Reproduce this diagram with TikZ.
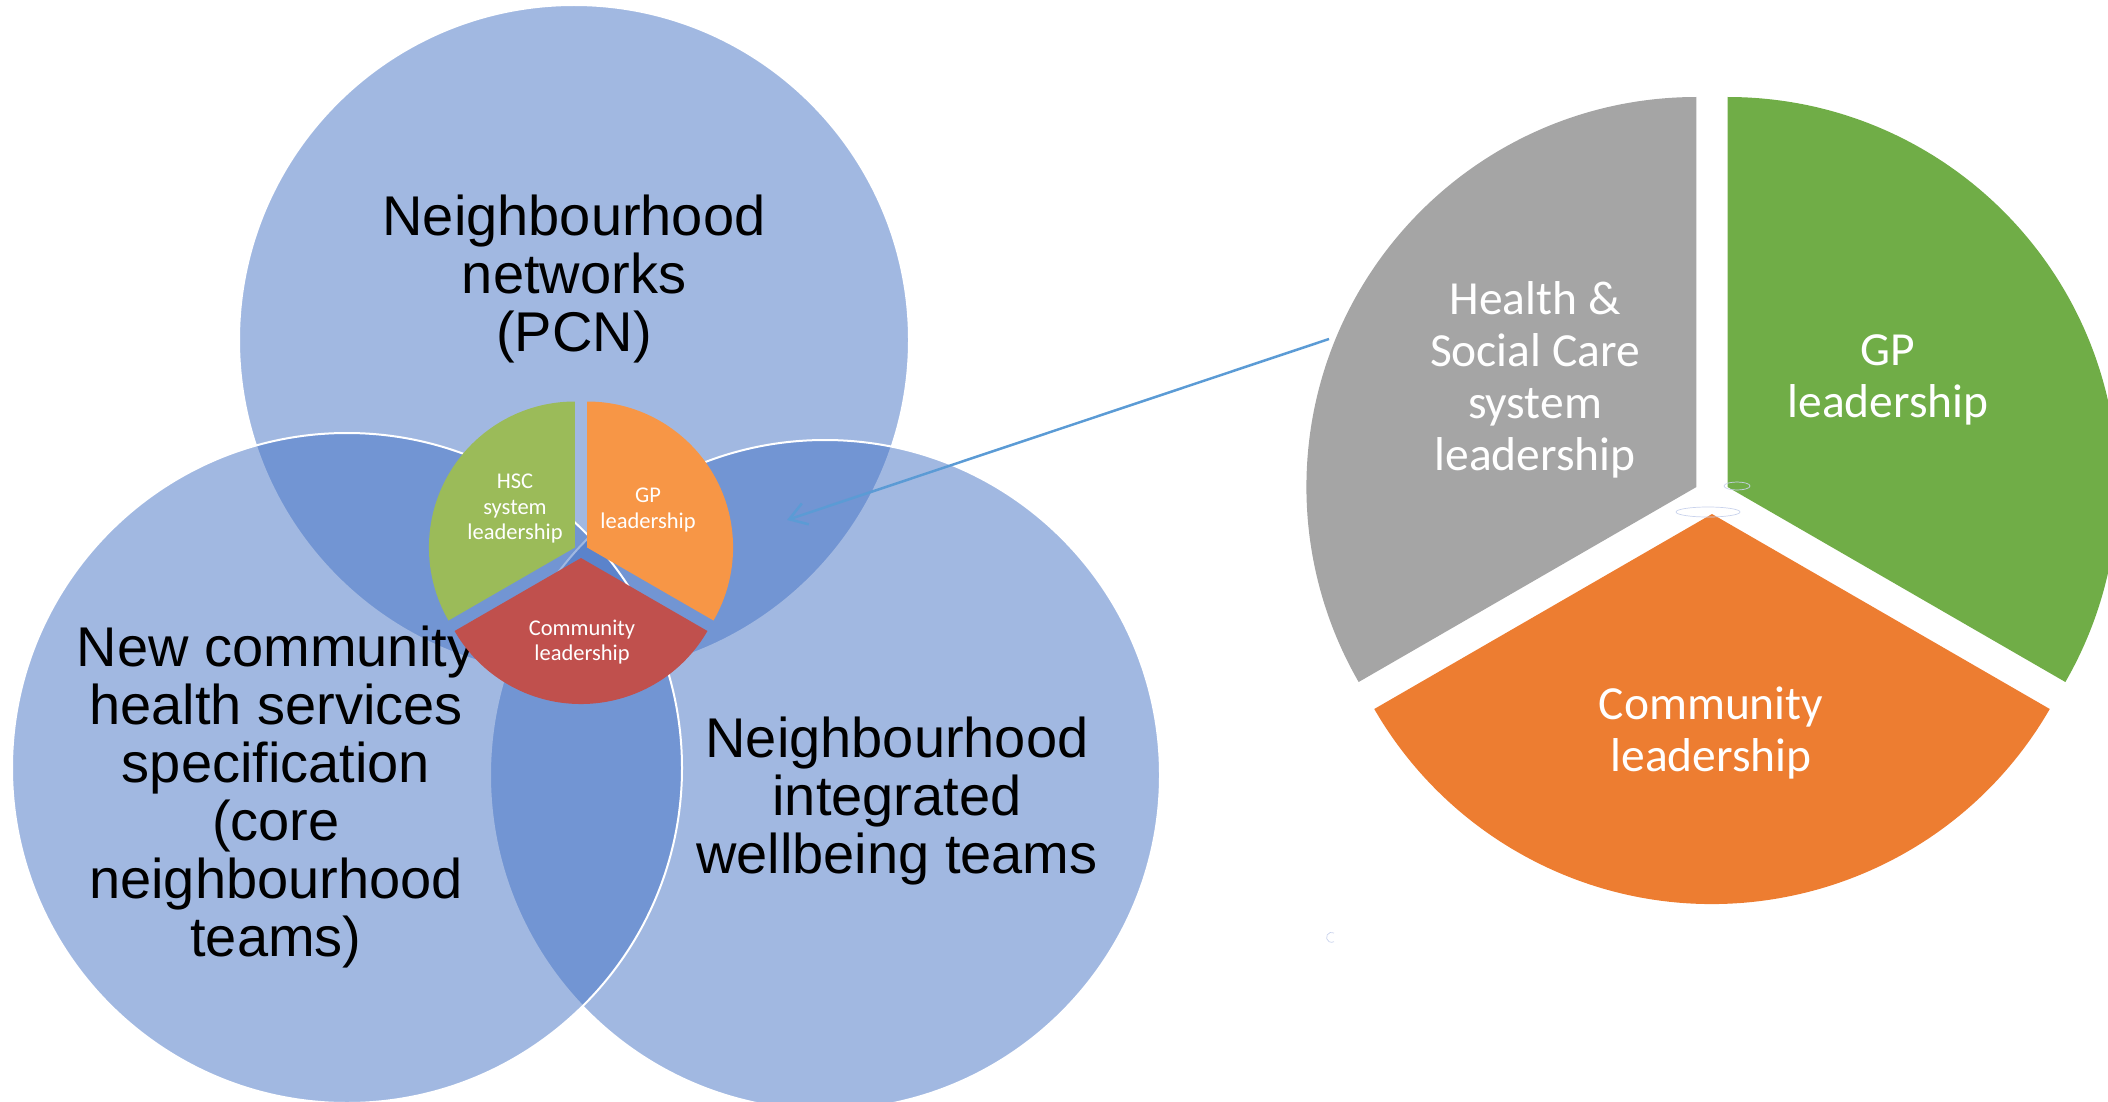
\documentclass[tikz,border=0pt]{standalone}
\usepackage{fontspec}
\setmainfont{Liberation Sans}
\newfontfamily\calibri{Carlito}
\usetikzlibrary{arrows.meta}
\definecolor{vennblue}{RGB}{68,114,196}
\definecolor{hscgreen}{RGB}{155,187,89}
\definecolor{gporange}{RGB}{247,150,70}
\definecolor{commred}{RGB}{192,80,77}
\definecolor{hscgray}{RGB}{165,165,165}
\definecolor{gpgreen}{RGB}{112,173,71}
\definecolor{commorange}{RGB}{237,125,49}
\definecolor{arrowblue}{RGB}{91,155,213}
\definecolor{faintblue}{RGB}{201,211,236}
\tikzset{
  venn/.style={circle,inner sep=0pt,minimum size=670pt,fill=vennblue,fill opacity=0.5,draw=white,line width=2pt},
  venntext/.style={align=center,text=black,font=\fontsize{56}{58}\selectfont},
  smalltext/.style={align=center,text=white,font=\calibri\fontsize{22.5}{25.5}\selectfont},
  bigtext/.style={align=center,text=white,font=\calibri\fontsize{47.5}{52}\selectfont},
}

\begin{document}
\begin{tikzpicture}[x=1pt,y=-1pt]
        \useasboundingbox (0,0) rectangle (2108,1102);
        \clip (0,0) rectangle (2108,1102);
        % venn circles
        \node (pcn) at (574,340) [venn] {};
        \node (iwt) at (825,775) [venn] {};
        \node (chs) at (347,768) [venn] {};
        \node (pcntext) at (574,279) [venntext] {Neighbourhood\\networks\\(PCN)};
        \node (chstext) at (276,797) [venntext] {New community\\health services\\specification\\(core\\neighbourhood\\teams)};
        \node (iwttext) at (897,801) [venntext] {Neighbourhood\\integrated\\wellbeing teams};
        % small pie
        \begin{scope}[shift={(581,551)},yscale=-1]
          \fill[hscgreen] (150:7) -- ++(90:146) arc[start angle=90,end angle=210,radius=146] -- cycle;
          \fill[gporange] (30:7) -- ++(90:146) arc[start angle=90,end angle=-30,radius=146] -- cycle;
          \fill[commred] (-90:7) -- ++(-30:146) arc[start angle=-30,end angle=-150,radius=146] -- cycle;
        \end{scope}
        \node (hscsmall) at (515,509) [smalltext] {HSC\\system\\leadership};
        \node (gpsmall) at (648,510) [smalltext] {GP\\leadership};
        \node (commsmall) at (582,642) [smalltext] {Community\\leadership};
        % large pie
        \begin{scope}[shift={(1712,496)},yscale=-1]
          \fill[hscgray] (150:18) -- ++(90:390) arc[start angle=90,end angle=210,radius=390] -- cycle;
          \fill[gpgreen] (30:18) -- ++(90:390) arc[start angle=90,end angle=-30,radius=390] -- cycle;
          \fill[commorange] (-90:18) -- ++(-30:390) arc[start angle=-30,end angle=-150,radius=390] -- cycle;
        \end{scope}
        \node (hscbig) at (1535,380) [bigtext] {Health \&\\Social Care\\system\\leadership};
        \node (gpbig) at (1888,380) [bigtext] {GP\\leadership};
        \node (commbig) at (1711,733) [bigtext] {Community\\leadership};
        \draw[faintblue,line width=0.7pt] (1708,512) ellipse[x radius=32,y radius=5];
        \draw[faintblue,line width=0.7pt] (1737,486) ellipse[x radius=13,y radius=4];
        \draw[faintblue,line width=0.7pt] (1334,933) arc[start angle=-60,end angle=-300,radius=5];
        % zoom arrow
        \coordinate (zoomfrom) at (1329,339);
        \coordinate (zoomto) at (787,520);
        \draw[arrowblue,line width=2.5pt,-{Straight Barb[length=17pt,width=22pt]}] (zoomfrom) -- (zoomto);
      \end{tikzpicture}
\end{document}
